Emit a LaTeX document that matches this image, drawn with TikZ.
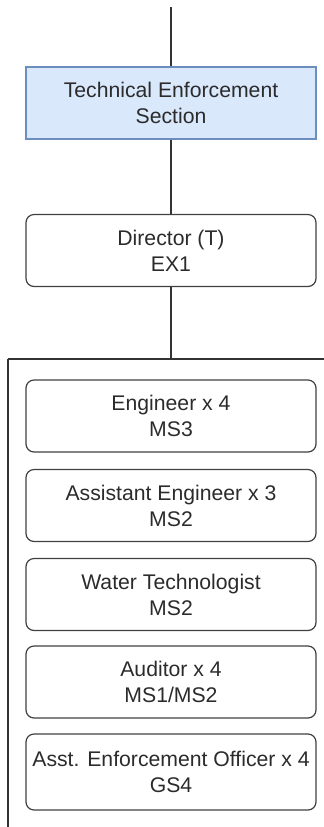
\documentclass[tikz,border=0pt]{standalone}
\usepackage{fontspec}
\setmainfont{Liberation Sans}
\usepackage{tikz}

\definecolor{secfill}{HTML}{DAE8FC}
\definecolor{secline}{HTML}{6C8EBF}
\definecolor{txtgray}{HTML}{2B2B2B}

\tikzset{
  post/.style={draw=black!75,line width=0.6pt,rounded corners=4pt,
    minimum width=145pt,minimum height=36pt,inner sep=1pt,align=center,
    text=txtgray,font=\fontsize{10.6pt}{13pt}\selectfont},
  secbox/.style={post,rounded corners=0pt,fill=secfill,draw=secline}
}

\begin{document}
\begin{tikzpicture}[x=0.5pt,y=-0.5pt]
      \useasboundingbox (0,0) rectangle (324,827);

      \node[secbox] (tes) at (171,103) {Technical Enforcement\\Section};
      \node[post] (dir) at (171,250.5) {Director (T)\\EX1};

      \node[post] (eng) at (171,416) {Engineer x 4\\MS3};
      \node[post] (asseng) at (171,505.5) {Assistant Engineer x 3\\MS2};
      \node[post] (water) at (171,594.5) {Water Technologist\\MS2};
      \node[post] (aud) at (171,682) {Auditor x 4\\MS1/MS2};
      \node[post,minimum height=38pt] (aeo) at (171,772) {Asst. Enforcement Officer x 4\\GS4};

      \coordinate (top) at (171,7);
      \coordinate (split) at (171,359);
      \coordinate (left) at (8,359);
      \coordinate (right) at (324,359);
      \coordinate (bottom) at (8,827);

      \draw[line width=0.6pt,black!80]
            (top) -- (tes.north)
            (tes.south) -- (dir.north)
            (dir.south) -- (split)
            (left) -- (right)
            (left) -- (bottom);
\end{tikzpicture}
\end{document}
